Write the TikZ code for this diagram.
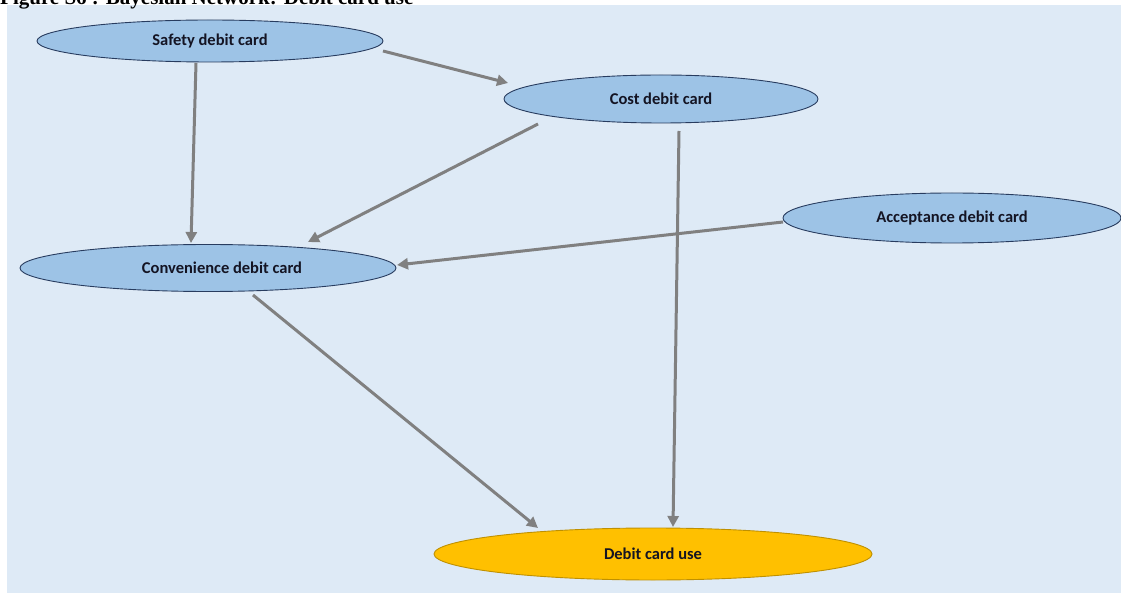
\documentclass[tikz,border=0pt]{standalone}
\usepackage{fontspec}
\setmainfont{Carlito}
\newfontfamily\titlefont{Liberation Serif}
\usetikzlibrary{shapes.geometric,arrows.meta,calc}
\definecolor{panelbg}{RGB}{222,234,246}
\definecolor{nodefill}{RGB}{157,195,230}
\definecolor{nodeborder}{RGB}{40,60,95}
\definecolor{usefill}{RGB}{255,192,0}
\definecolor{useborder}{RGB}{191,144,0}
\definecolor{arrowgray}{RGB}{128,128,128}
\definecolor{txt}{RGB}{20,20,35}
\tikzset{
  el/.style={ellipse, draw=nodeborder, line width=0.9pt, fill=nodefill, inner sep=0pt,
    text=txt, font=\fontsize{16.5}{19}\selectfont\bfseries},
  useel/.style={el, draw=useborder, fill=usefill},
  link/.style={draw=arrowgray, line width=3pt, -{Triangle[length=11pt,width=11pt]}}
}
\begin{document}
\begin{tikzpicture}[x=1pt,y=-1pt]
\useasboundingbox (0,0) rectangle (1121,593);
\clip (0,0) rectangle (1121,593);
\fill[panelbg] (7,5) rectangle (1121,593);
\node[anchor=base west, inner sep=0pt, font=\titlefont\fontsize{21}{24}\selectfont\bfseries] (title) at (0,5) {Figure S6 : Bayesian Network: Debit card use};

\node[el, minimum width=346pt, minimum height=42pt] (safety) at (210,41) {Safety debit card};
\node[el, minimum width=314pt, minimum height=48pt] (cost) at (661,99) {Cost debit card};
\node[el, minimum width=338pt, minimum height=50pt] (accept) at (952,218) {Acceptance debit card};
\node[el, minimum width=376pt, minimum height=47pt] (conv) at (208,268) {\hspace*{28pt}Convenience debit card};
\node[useel, minimum width=438pt, minimum height=52pt] (use) at (653,554) {Debit card use};

\draw[link] ($(safety)+(173,10)$) -- ($(cost)+(-153,-16)$);
\draw[link] ($(safety)+(-14,22)$) -- ($(conv)+(-17,-25)$);
\draw[link] ($(cost)+(-123,25)$) -- ($(conv)+(100,-26)$);
\draw[link] ($(accept)+(-169,4)$) -- ($(conv)+(189,-3)$);
\draw[link] ($(conv)+(45,27)$) -- ($(use)+(-115,-26)$);
\draw[link] ($(cost)+(18,32)$) -- ($(use)+(20,-27)$);
\end{tikzpicture}
\end{document}
